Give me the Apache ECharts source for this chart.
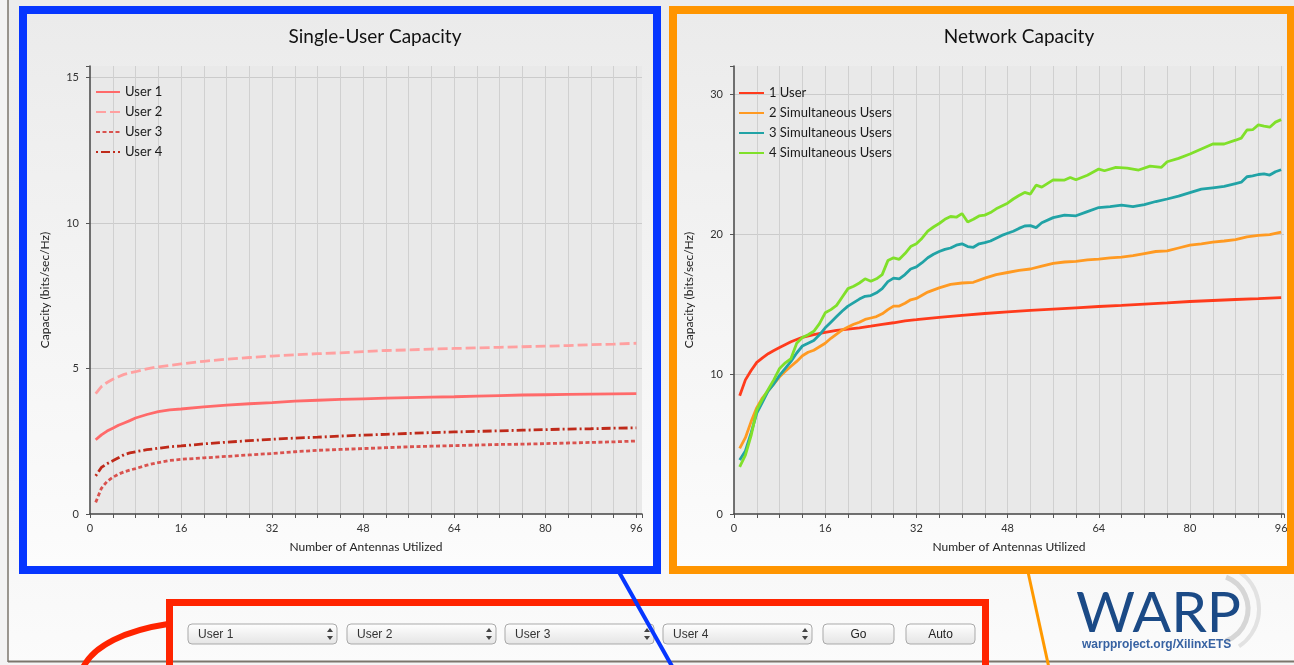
<!DOCTYPE html>
<html>
<head>
<meta charset="utf-8">
<script src="https://cdn.jsdelivr.net/npm/echarts@6/dist/echarts.min.js"></script>
<style>
html,body{margin:0;padding:0;}
#page{position:relative;width:1294px;height:665px;background:linear-gradient(#ececec 0%, #f2f2f2 60%, #fbfbfb 100%);overflow:hidden;}
#chart{position:absolute;left:0;top:0;width:1294px;height:665px;}
</style>
</head>
<body>
<div id="page"><div id="chart"></div></div>
<script>
// ---------- data ----------
const leftTitle = 'Single-User Capacity';
const rightTitle = 'Network Capacity';
const xAxisName = 'Number of Antennas Utilized';
const yAxisName = 'Capacity (bits/sec/Hz)';
const leftNames = ['User 1', 'User 2', 'User 3', 'User 4'];
const rightNames = ['1 User', '2 Simultaneous Users', '3 Simultaneous Users', '4 Simultaneous Users'];
const dropdownLabels = ['User 1', 'User 2', 'User 3', 'User 4'];
const buttonLabels = ['Go', 'Auto'];

const user1 = [[1,2.55],[2,2.72],[3,2.85],[4,2.95],[5,3.05],[6,3.13],[7,3.21],[8,3.30],[10,3.42],[12,3.52],[14,3.58],[16,3.61],[20,3.68],[24,3.74],[28,3.79],[32,3.83],[36,3.88],[40,3.91],[44,3.94],[48,3.96],[52,3.98],[56,4.00],[60,4.02],[64,4.03],[68,4.05],[72,4.07],[76,4.09],[80,4.10],[84,4.11],[88,4.12],[92,4.13],[96,4.14]];
const user2 = [[1,4.14],[2,4.38],[3,4.52],[4,4.63],[5,4.72],[6,4.80],[7,4.85],[8,4.89],[10,4.99],[12,5.06],[14,5.11],[16,5.16],[20,5.25],[24,5.32],[28,5.38],[32,5.43],[36,5.47],[40,5.51],[44,5.54],[48,5.58],[52,5.62],[56,5.64],[60,5.67],[64,5.69],[68,5.71],[72,5.73],[76,5.75],[80,5.77],[84,5.79],[88,5.82],[92,5.84],[96,5.87]];
const user3 = [[1,0.40],[2,0.88],[3,1.12],[4,1.26],[5,1.37],[6,1.45],[7,1.51],[8,1.56],[10,1.68],[12,1.77],[14,1.84],[16,1.88],[20,1.93],[24,1.98],[28,2.03],[32,2.08],[36,2.14],[40,2.19],[44,2.22],[48,2.25],[52,2.28],[56,2.31],[60,2.33],[64,2.35],[68,2.37],[72,2.39],[76,2.40],[80,2.42],[84,2.44],[88,2.46],[92,2.48],[96,2.51]];
const user4 = [[1,1.31],[2,1.60],[3,1.73],[4,1.83],[5,1.93],[6,2.04],[7,2.10],[8,2.14],[10,2.21],[12,2.26],[14,2.31],[16,2.34],[20,2.41],[24,2.47],[28,2.52],[32,2.57],[36,2.61],[40,2.64],[44,2.68],[48,2.71],[52,2.74],[56,2.77],[60,2.80],[64,2.82],[68,2.84],[72,2.86],[76,2.88],[80,2.90],[84,2.92],[88,2.93],[92,2.95],[96,2.96]];

const oneUser = [[1,8.44],[2,9.58],[3,10.25],[4,10.83],[5,11.15],[6,11.45],[7,11.68],[8,11.90],[10,12.30],[12,12.62],[14,12.82],[16,12.98],[18,13.12],[20,13.20],[22,13.30],[24,13.42],[26,13.55],[28,13.66],[30,13.80],[32,13.88],[36,14.05],[40,14.19],[44,14.32],[48,14.44],[52,14.55],[56,14.64],[60,14.73],[64,14.82],[68,14.90],[72,14.99],[76,15.08],[80,15.18],[84,15.25],[88,15.32],[92,15.38],[96,15.45]];
const twoUsers = [[1,4.69],[2,5.45],[3,6.6],[4,7.6],[5,8.3],[6,8.8],[7,9.3],[8,9.8],[9,10.2],[10,10.55],[11,10.9],[12,11.3],[13,11.55],[14,11.7],[15,11.95],[16,12.2],[17,12.55],[18,12.85],[19,13.15],[20,13.35],[21,13.55],[22,13.7],[23,13.9],[24,14.0],[25,14.1],[26,14.3],[27,14.6],[28,14.85],[29,14.85],[30,15.05],[31,15.3],[32,15.4],[34,15.85],[36,16.15],[38,16.4],[40,16.5],[42,16.55],[44,16.85],[46,17.1],[48,17.25],[50,17.4],[52,17.5],[54,17.7],[56,17.9],[58,18.0],[60,18.05],[62,18.15],[64,18.2],[66,18.3],[68,18.35],[70,18.45],[72,18.6],[74,18.75],[76,18.8],[78,19.0],[80,19.2],[82,19.3],[84,19.42],[86,19.5],[88,19.6],[90,19.8],[92,19.9],[94,19.95],[96,20.14]];
const threeUsers = [[1,3.85],[2,4.5],[3,5.8],[4,7.2],[5,8.0],[6,8.8],[7,9.3],[8,9.9],[9,10.4],[10,10.9],[11,11.5],[12,12.0],[13,12.2],[14,12.4],[15,12.8],[16,13.3],[17,13.7],[18,14.1],[19,14.5],[20,14.85],[21,15.1],[22,15.35],[23,15.55],[24,15.6],[25,15.8],[26,16.1],[27,16.6],[28,16.85],[29,16.8],[30,17.1],[31,17.5],[32,17.65],[33,17.95],[34,18.3],[35,18.55],[36,18.75],[37,18.9],[38,19.0],[39,19.2],[40,19.3],[41,19.1],[42,19.05],[43,19.3],[44,19.38],[45,19.5],[46,19.7],[47,19.9],[48,20.05],[49,20.2],[50,20.4],[51,20.57],[52,20.6],[53,20.46],[54,20.8],[56,21.17],[58,21.35],[60,21.3],[62,21.6],[64,21.89],[66,21.95],[68,22.06],[70,21.96],[72,22.1],[74,22.32],[76,22.5],[78,22.7],[80,22.95],[82,23.2],[84,23.3],[86,23.4],[88,23.6],[89,23.7],[90,24.09],[91,24.15],[92,24.25],[93,24.3],[94,24.21],[95,24.45],[96,24.59]];
const fourUsers = [[1,3.37],[2,4.2],[3,5.6],[4,7.43],[5,8.2],[6,8.9],[7,9.6],[8,10.4],[9,10.8],[10,11.1],[11,12.2],[12,12.6],[13,12.8],[14,13.05],[15,13.6],[16,14.37],[17,14.6],[18,14.9],[19,15.5],[20,16.1],[21,16.27],[22,16.5],[23,16.8],[24,16.63],[25,16.8],[26,17.1],[27,18.1],[28,18.3],[29,18.19],[30,18.6],[31,19.1],[32,19.3],[33,19.7],[34,20.2],[35,20.5],[36,20.75],[37,21.05],[38,21.25],[39,21.2],[40,21.46],[41,20.86],[42,21.05],[43,21.29],[44,21.35],[45,21.53],[46,21.8],[47,22.0],[48,22.2],[49,22.5],[50,22.75],[51,22.97],[52,22.85],[53,23.49],[54,23.35],[56,23.87],[58,23.85],[59,24.04],[60,23.87],[62,24.2],[64,24.64],[65,24.52],[67,24.76],[69,24.7],[71,24.57],[73,24.85],[75,24.76],[76,25.16],[78,25.4],[80,25.71],[82,26.07],[84,26.43],[86,26.43],[88,26.7],[89,26.85],[90,27.43],[91,27.45],[92,27.79],[93,27.7],[94,27.63],[95,27.99],[96,28.17]];

const xLabelStep = 16;
const leftYStep = 5;
const rightYStep = 10;

// ---------- styles ----------
const FONT = 'Lato, "Open Sans", sans-serif';
const leftColors = ['#ff6a6a', '#ffa0a0', '#d9524e', '#bf2a1a'];
const leftDash = ['solid', [10, 4], [4, 2.5], [2, 3, 9, 3]];
const rightColors = ['#ff3b1c', '#ff9a22', '#21a3a6', '#80e02a'];

function xAxisCfg(gridIndex, max) {
  return {
    type: 'value', gridIndex: gridIndex, min: 0, max: max, interval: 4,
    name: xAxisName, nameLocation: 'middle', nameGap: 27,
    nameTextStyle: { fontFamily: FONT, fontSize: 12, color: '#222' },
    axisLine: { show: true, onZero: false, lineStyle: { color: '#444', width: 1.5 } },
    axisTick: { show: true, length: 4, lineStyle: { color: '#555' } },
    axisLabel: { margin: 9, fontFamily: FONT, fontSize: 11, color: '#333',
      formatter: v => (v % xLabelStep === 0 ? String(v) : '') },
    splitLine: { show: true, showMinLine: false, showMaxLine: false, lineStyle: { color: '#d0d0d0', width: 1 } }
  };
}
function yAxisCfg(gridIndex, max, step) {
  return {
    type: 'value', gridIndex: gridIndex, min: 0, max: max, interval: step,
    name: yAxisName, nameLocation: 'middle', nameGap: 39, nameRotate: 90,
    nameTextStyle: { fontFamily: FONT, fontSize: 12, color: '#222' },
    axisLine: { show: true, onZero: false, lineStyle: { color: '#444', width: 1.5 } },
    axisTick: { show: true, length: 4, lineStyle: { color: '#555' } },
    axisLabel: { margin: 11, fontFamily: FONT, fontSize: 11, color: '#333',
      formatter: v => (v % step === 0 ? String(v) : '') },
    splitLine: { show: true, showMinLine: false, showMaxLine: false, lineStyle: { color: '#cbcbcb', width: 1 } }
  };
}

const leftData = [user1, user2, user3, user4];
const rightData = [oneUser, twoUsers, threeUsers, fourUsers];
const series = [];
leftNames.forEach((n, i) => series.push({
  name: n, type: 'line', xAxisIndex: 0, yAxisIndex: 0, data: leftData[i],
  symbol: 'none', smooth: false,
  lineStyle: { color: leftColors[i], width: 2.8, type: leftDash[i] },
  itemStyle: { color: leftColors[i] }, z: 3
}));
rightNames.forEach((n, i) => series.push({
  name: n, type: 'line', xAxisIndex: 1, yAxisIndex: 1, data: rightData[i],
  symbol: 'none', smooth: false,
  lineStyle: { color: rightColors[i], width: 2.8 },
  itemStyle: { color: rightColors[i] }, z: 3
}));

// ---------- decorations ----------
const graphics = [];
function panelFill() {
  return new echarts.graphic.LinearGradient(0, 0, 0, 1, [
    { offset: 0, color: '#ebebeb' }, { offset: 1, color: '#fcfcfc' }]);
}
graphics.push({ type: 'rect', z: -20, shape: { x: 0, y: 0, width: 8, height: 665 }, style: { fill: '#f3f3f3' } });
graphics.push({ type: 'line', z: -19, shape: { x1: 8, y1: 0, x2: 8, y2: 662 }, style: { stroke: '#7b766c', lineWidth: 1.5 } });
graphics.push({ type: 'rect', z: -20, shape: { x: 8, y: 662, width: 1290, height: 5 }, style: { fill: '#f5f5f5' } });
graphics.push({ type: 'line', z: -19, shape: { x1: 8, y1: 661.5, x2: 1294, y2: 661.5 }, style: { stroke: '#7b766c', lineWidth: 2 } });
graphics.push({ type: 'rect', z: -10, shape: { x: 27, y: 14, width: 626, height: 552 }, style: { fill: panelFill() } });
graphics.push({ type: 'rect', z: -10, shape: { x: 677, y: 14, width: 610, height: 552 }, style: { fill: panelFill() } });
graphics.push({ type: 'line', z: 5, shape: { x1: 1028, y1: 572, x2: 1049, y2: 668 }, style: { stroke: '#ff9900', lineWidth: 3 } });
graphics.push({ type: 'rect', z: 10, shape: { x: 23, y: 10, width: 634, height: 560 }, style: { fill: null, stroke: '#0636ff', lineWidth: 8 } });
graphics.push({ type: 'rect', z: 10, shape: { x: 673, y: 10, width: 618, height: 560 }, style: { fill: null, stroke: '#ff9500', lineWidth: 8 } });
graphics.push({ type: 'rect', z: 10, shape: { x: 169.5, y: 602.5, width: 816, height: 120 }, style: { fill: null, stroke: '#ff2400', lineWidth: 7 } });
graphics.push({ type: 'bezierCurve', z: 10, shape: { x1: 168, y1: 624, cpx1: 128, cpy1: 630, cpx2: 92, cpy2: 645, x2: 82, y2: 670 }, style: { fill: null, stroke: '#ff2400', lineWidth: 6 } });
graphics.push({ type: 'line', z: 11, shape: { x1: 619, y1: 572, x2: 673, y2: 668 }, style: { stroke: '#0636ff', lineWidth: 4 } });

const ddX = [188, 347, 505, 663];
const ddW = 149;
dropdownLabels.forEach((t, i) => {
  const x = ddX[i], y = 624, w = ddW, h = 20;
  graphics.push({ type: 'rect', z: 8, shape: { x: x, y: y, width: w, height: h, r: 4 },
    style: { fill: new echarts.graphic.LinearGradient(0, 0, 0, 1, [{ offset: 0, color: '#ffffff' }, { offset: 1, color: '#e4e4e4' }]), stroke: '#a9a9a9', lineWidth: 1 } });
  graphics.push({ type: 'text', z: 9, style: { text: t, x: x + 10, y: y + h / 2 + 1, fill: '#333', font: '12px "Liberation Sans", sans-serif', verticalAlign: 'middle', align: 'left' } });
  graphics.push({ type: 'polygon', z: 9, shape: { points: [[x + w - 10, y + 8], [x + w - 7, y + 4], [x + w - 4, y + 8]] }, style: { fill: '#444' } });
  graphics.push({ type: 'polygon', z: 9, shape: { points: [[x + w - 10, y + 12], [x + w - 7, y + 16], [x + w - 4, y + 12]] }, style: { fill: '#444' } });
});
const btnX = [823, 906];
const btnW = [71, 69];
buttonLabels.forEach((t, i) => {
  const x = btnX[i], y = 624, w = btnW[i], h = 20;
  graphics.push({ type: 'rect', z: 8, shape: { x: x, y: y, width: w, height: h, r: 4 },
    style: { fill: new echarts.graphic.LinearGradient(0, 0, 0, 1, [{ offset: 0, color: '#ffffff' }, { offset: 1, color: '#e4e4e4' }]), stroke: '#a9a9a9', lineWidth: 1 } });
  graphics.push({ type: 'text', z: 9, style: { text: t, x: x + w / 2, y: y + h / 2 + 1, fill: '#222', font: '12px "Liberation Sans", sans-serif', verticalAlign: 'middle', align: 'center' } });
});

graphics.push({ type: 'arc', z: 6, shape: { cx: 1214, cy: 609, r: 34, startAngle: -Math.PI / 2.6, endAngle: Math.PI / 2.6 }, style: { fill: null, stroke: '#d6d6d6', lineWidth: 5 } });
graphics.push({ type: 'arc', z: 6, shape: { cx: 1214, cy: 609, r: 45, startAngle: -Math.PI / 3.2, endAngle: Math.PI / 3.2 }, style: { fill: null, stroke: '#e2e2e2', lineWidth: 4 } });
graphics.push({ type: 'text', z: 7, style: { text: 'WARP', x: 1076, y: 614, fill: '#1b4a86', font: '57px Lato, sans-serif', verticalAlign: 'middle', align: 'left' } });
graphics.push({ type: 'text', z: 7, style: { text: 'warpproject.org/XilinxETS', x: 1082, y: 645, fill: '#3762a2', font: 'bold 12px "Liberation Sans", sans-serif', verticalAlign: 'middle', align: 'left' } });

const legendCommon = {
  orient: 'vertical', itemHeight: 14, itemGap: 6, padding: 0,
  itemStyle: { opacity: 0 },
  textStyle: { fontFamily: FONT, fontSize: 13, color: '#1a1a1a', lineHeight: 14 }, selectedMode: false
};

const option = {
  backgroundColor: 'transparent',
  animation: false,
  title: [
    { text: leftTitle, left: 370, top: 22, textAlign: 'center', textStyle: { fontFamily: FONT, fontSize: 19, fontWeight: 'normal', color: '#111' } },
    { text: rightTitle, left: 1014, top: 22, textAlign: 'center', textStyle: { fontFamily: FONT, fontSize: 19, fontWeight: 'normal', color: '#111' } }
  ],
  legend: [
    Object.assign({ data: leftNames, left: 95, top: 85, itemWidth: 24 }, legendCommon),
    Object.assign({ data: rightNames, left: 738, top: 86, itemWidth: 25 }, legendCommon)
  ],
  grid: [
    { left: 90, top: 66, width: 552, height: 448, show: true, backgroundColor: '#e9e9e9', borderWidth: 0 },
    { left: 734, top: 66, width: 550, height: 448, show: true, backgroundColor: '#e9e9e9', borderWidth: 0 }
  ],
  xAxis: [xAxisCfg(0, 97), xAxisCfg(1, 96.5)],
  yAxis: [yAxisCfg(0, 15.4, leftYStep), yAxisCfg(1, 32, rightYStep)],
  series: series,
  graphic: { elements: graphics }
};

const chart = echarts.init(document.getElementById('chart'), null, { renderer: 'canvas' });
chart.setOption(option);
</script>
</body>
</html>
